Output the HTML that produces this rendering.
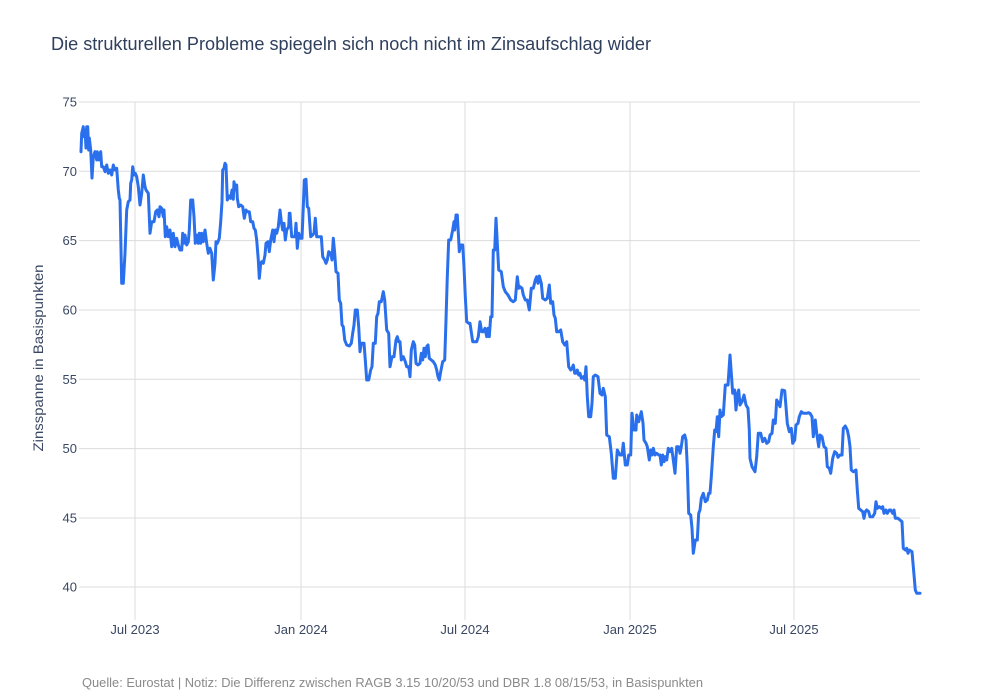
<!DOCTYPE html>
<html>
<head>
<meta charset="utf-8">
<style>
  html,body{margin:0;padding:0;background:#fff;}
  svg{display:block;}
  text{font-family:"Liberation Sans",Arial,sans-serif;}
</style>
</head>
<body>
<svg width="1000" height="700" viewBox="0 0 1000 700" xmlns="http://www.w3.org/2000/svg">
  <rect width="1000" height="700" fill="#fff"/>
  <text x="51" y="50" font-size="18" fill="#2f3f5c" textLength="600" lengthAdjust="spacingAndGlyphs">Die strukturellen Probleme spiegeln sich noch nicht im Zinsaufschlag wider</text>

  <!-- vertical grid -->
  <g stroke="#dcdcdc" stroke-width="1">
    <line x1="135" y1="102" x2="135" y2="620"/>
    <line x1="301" y1="102" x2="301" y2="620"/>
    <line x1="465" y1="102" x2="465" y2="620"/>
    <line x1="630" y1="102" x2="630" y2="620"/>
    <line x1="794" y1="102" x2="794" y2="620"/>
  </g>
  <!-- horizontal grid -->
  <g stroke="#dcdcdc" stroke-width="1">
    <line x1="79" y1="102" x2="920" y2="102"/>
    <line x1="79" y1="171.3" x2="920" y2="171.3"/>
    <line x1="79" y1="240.6" x2="920" y2="240.6"/>
    <line x1="79" y1="310" x2="920" y2="310"/>
    <line x1="79" y1="379.3" x2="920" y2="379.3"/>
    <line x1="79" y1="448.6" x2="920" y2="448.6"/>
    <line x1="79" y1="518" x2="920" y2="518"/>
    <line x1="79" y1="587" x2="920" y2="587"/>
  </g>

  <g font-size="13" fill="#3a4763" text-anchor="end">
    <text x="77" y="106.5">75</text>
    <text x="77" y="175.8">70</text>
    <text x="77" y="245.1">65</text>
    <text x="77" y="314.5">60</text>
    <text x="77" y="383.8">55</text>
    <text x="77" y="453.1">50</text>
    <text x="77" y="522.5">45</text>
    <text x="77" y="591.5">40</text>
  </g>

  <g font-size="13" fill="#3a4763" text-anchor="middle">
    <text x="135" y="634">Jul 2023</text>
    <text x="301" y="634">Jan 2024</text>
    <text x="465" y="634">Jul 2024</text>
    <text x="630" y="634">Jan 2025</text>
    <text x="794" y="634">Jul 2025</text>
  </g>

  <text transform="translate(43,358) rotate(-90)" font-size="14" fill="#3a4763" text-anchor="middle" textLength="187" lengthAdjust="spacingAndGlyphs">Zinsspanne in Basispunkten</text>

  <text x="82" y="687" font-size="12.5" fill="#8a8a8a" textLength="621" lengthAdjust="spacingAndGlyphs">Quelle: Eurostat | Notiz: Die Differenz zwischen RAGB 3.15 10/20/53 und DBR 1.8 08/15/53, in Basispunkten</text>

  <polyline fill="none" stroke="#2a70ec" stroke-width="3" stroke-linejoin="round" stroke-linecap="round" points="
81,151.7 81.7,133.3 83.3,126.7 84,136.7 85,130 86,148 86.7,126.7 87.7,126.7 88.7,150 89.3,138 90.7,150 92,178 93.3,156.7 95,151.7 96.7,160 97.3,151.7 99,160 100.7,151.7 101.7,166.7 103.3,166.7 105,171.7 106.7,165 108.3,173.3 110,170 111.7,175 113.3,165 115,170 116.7,168.3 118.3,190 119.3,198.3 120,200 121.7,283.3 123.3,283.3 125,253.3 126.7,210 128.3,201.7 130,200 130.7,183.3 131.7,180 132.7,166.7 134,175 135.3,173.3 136.7,176.7 138.3,186.7 140,205 141.7,193.3 143.3,175 145,186.7 146,190 148.3,193.3 150,233.3 151.7,221.7 154,221.7 155.7,211.7 157.3,210 159,216.7 160,206.7 161.7,208.3 163.3,216.7 164,210 165.3,236.7 166.7,226.7 168.3,236.7 170,230 171.7,246.7 173.3,233.3 175,246.7 176.7,238.3 178.3,245 180,250 181.7,250 182.7,233.3 184,243.3 185,235 186.7,245 188.3,241.7 189.3,230 190.7,200 192.7,200 194,216.7 195.3,243.3 196.7,235 198.3,243.3 199.3,233.3 200.7,243.3 201.7,233.3 203.3,241.7 205,230 206.7,243.3 208.3,253.3 210,248.3 211.7,253.3 213.3,280 215,263.3 216,241.7 217.3,243.3 219.3,238.3 220.7,221.7 222,201.7 222.7,170 224,168.3 225,163.3 226,165 227.3,200 229.3,196 230.7,198.3 232,190 233.3,199.3 234,181.7 235.3,190 236.7,185 237.3,198.3 238.7,206.7 240.7,205 242.7,206.7 244.3,218.3 246,210 247.3,211.7 249.3,211.7 250.7,221.7 252.7,221.7 254,228.3 255.3,230 256.7,240 258.3,260 259.3,278.3 260.7,263.3 261.7,261.7 263.3,263.3 265,255 266,243.3 268,241.7 269.3,251.7 270.7,240 272.7,230 274,241.7 275.3,230 276.7,233.3 278.3,226.7 280,210 281.3,221.7 282.7,230 284,223.3 285.3,240 286.7,230 288.7,226.7 289.3,213.3
290,213.3 291.7,236.7 295,236.7 296,223.3 297.3,248.3 298.7,233.3 300.7,238.3 302,238.3 303.3,206.7 304.3,180 306,179.3 307.3,206.7 308.7,208.3 310.7,236.7 312.7,235 314,233.3 315.3,218.3 316.7,236.7 318.7,236.7 321.3,236.7 322.7,256.7 324.7,260 326,263.3 327.3,260 328.7,251.7 330.7,253.3 332,260 333.3,238.3 334.7,253.3 336,271.7 338,273.3 339.3,300 340.7,303.3 342,325 343.3,326.7 344.7,340 346.7,345 349.3,346 351.3,343.3 352.7,333.3 354,325 355.3,310 357.3,310 358.7,326.7 360,351.7 361.3,343.3 364,343.3 365.3,360 366.7,380 368.7,380 370.7,370 372,366.7 373.3,343.3 375.3,343.3 376.7,316.7 378,313.3 379.3,301.7 381.3,301.7 383.3,291.7 384.7,300 386.7,330 388.7,333.3 390,366.7 392,356.7 394,356.7 396,340 397.3,336.7 398.7,341.7 400,341.7 401.3,360 403.3,356.7 405.3,361.7 406.7,366.7 408.7,366.7 410,376.7 411.3,350 413.3,341.7 414.7,345 416,363.3 418,365 420,363.3 421.3,353.3 422.7,360 424,348.3 425.3,356.7 426.7,346.7 428,345 429.3,358.3 431.3,360 433.3,361.7 435.3,365 436.7,370 438,376.7 439.3,380 440.7,371.7 442.7,361.7 444.7,360 446,320 447.3,276.7 448.7,240 450.7,240 452.7,230 454,221.7 454.7,230 456,215 457.3,215 458.7,240 459.3,251.7 460.7,245 462.7,245 464,266.7 465.3,296.7 466.7,321.7 468.7,323.3 470,323.3
472.7,341.7 476.7,341.7 478.3,336.7 480,321.7 481.7,331.7 483.3,331.7 485,328.3 486.7,336.7 488,328.3 489.3,336.7 490.7,316.7 492,316.7 493.3,250 494.7,250 496,218.3 497.3,243.3 498.7,270 501.3,271.7 503.3,286.7 505.3,291.7 508,295 510.7,300 513.3,301.7 515.3,300 517.3,276.7 518.7,288.3 520,286.7 522,288.3 523.3,295 525.3,300 527.3,300 529.3,310 531.3,288.3 533.3,288.3 535.3,280 536.7,276.7 538,283.3 539.3,276 541.3,283.3 542.7,298.3 545.3,300 547.3,298.3 549.3,285 550.7,303.3 552.7,301.7 554,315 555.3,318.3 556.7,331.7 558.7,331.7 560.7,330 562.7,341.7 564.7,345 566.7,341.7 568.7,366.7 570.7,370 572,368.3 573.3,365 574.7,373.3 576,373.3 577.3,370 578.7,375 580,373.3 581.3,378.3 583.3,376.7 584.7,380 586,366.7 587.3,396.7 588.7,416.7 590.7,416.7 592,403.3 593.3,376.7 595.3,375 598,376.7 600,393.3 602,395 603.3,388.3 605.3,396.7 606.7,435 609.3,436.7 611.3,453.3 613.3,478.3 615.3,478.3 617.3,450 620,455 622,455 623.3,443.3 625.3,465 627.3,465 628.7,455 630.7,455 632,413.3 634,430 636,430 636.7,415 638.7,421.7 641.3,411.7
643,423 644,440 646,443.3 647.3,446.7 649.3,460 650.7,450 652,455 653.3,448.3 655,455 656.7,453.3 658.7,455 660,455 661.3,465 662.7,455 664,461.7 665.3,456.7 666.7,460 668.3,448.3 670,451.7 671.7,448.3 673.3,460 675,473.3 676.7,446.7 678.7,446.7 680,453.3 681.3,446.7 682.7,436.7 684.7,435 686,440 687.3,466.7 688.7,513.3 690.7,515 692,528.3 693.3,553.3 695.3,540 697.3,540 698.7,513.3 700,510 701.3,498.3 703.3,493.3 705.3,501.7 707.3,500 708.7,493.3 710,493.3 711.3,476.7 713.3,446.7 714.7,430 716,431.7 717.3,416.7 718.7,436.7 720,410 721.3,416.7 723.3,415 725.3,385 728,385 730,355 731.3,373.3 732.7,393.3 734.7,390 736,410 737.3,395 738.7,390 740,405 742,401.7 744,395 746,405 748,408.3 749.3,430 750,458.3
752,466.7 755,471.7 756.7,456.7 758.3,433.3 760.7,433.3 762.7,441.7 764.7,438.3 766.7,443.3 768.7,441.7 770,435 772,433.3 773.3,420 775.3,423.3 776.7,400 778.7,403.3 780,406.7 782,390 784.7,390.7 786,406.7 787.3,423.3 789.3,431.7 791.3,428.3 792.7,443.3 794.7,440 796,425 798,423.3 799.3,416.7 801.3,411.7 803.3,413.3 806.7,413.3 808.7,412.7 810,413.3 812,416.7 813.3,436.7 815.3,420 816.7,433.3 818.7,446.7 820,435 822,436.7 824,446.7 826,448.3 827.3,466.7 829.3,468.3 830.7,473.3 832.7,458.3 834.7,451.7 836.7,453.3 838,457.3 840,455 842,455 843.3,428.3 845.3,426 847.3,430 848.7,436.7 850,446.7 851.3,470 853.3,471.7 856,470 857.3,490 858.7,508.3 860.7,510 862.7,511.7 864,518.3 865.3,511.7 866.7,510 868.7,511.7 870,516.7 872.7,516.7 874.7,513.3 876,501.7 877.3,508.3 879.3,506.7 881.3,508.3 882.7,506.7 884,513.3 886,510 887.3,513.3 889.3,510 890.7,510 892.7,513.3 894,510 895.3,518.3 898,518.3 900,520 902,521.7 903.3,548.3 905.3,550 906.7,548.3 908,553.3 909.3,550 912,551.7 913.3,566.7 915.3,590 916.7,593.3 920,593.3"/>
</svg>
</body>
</html>
